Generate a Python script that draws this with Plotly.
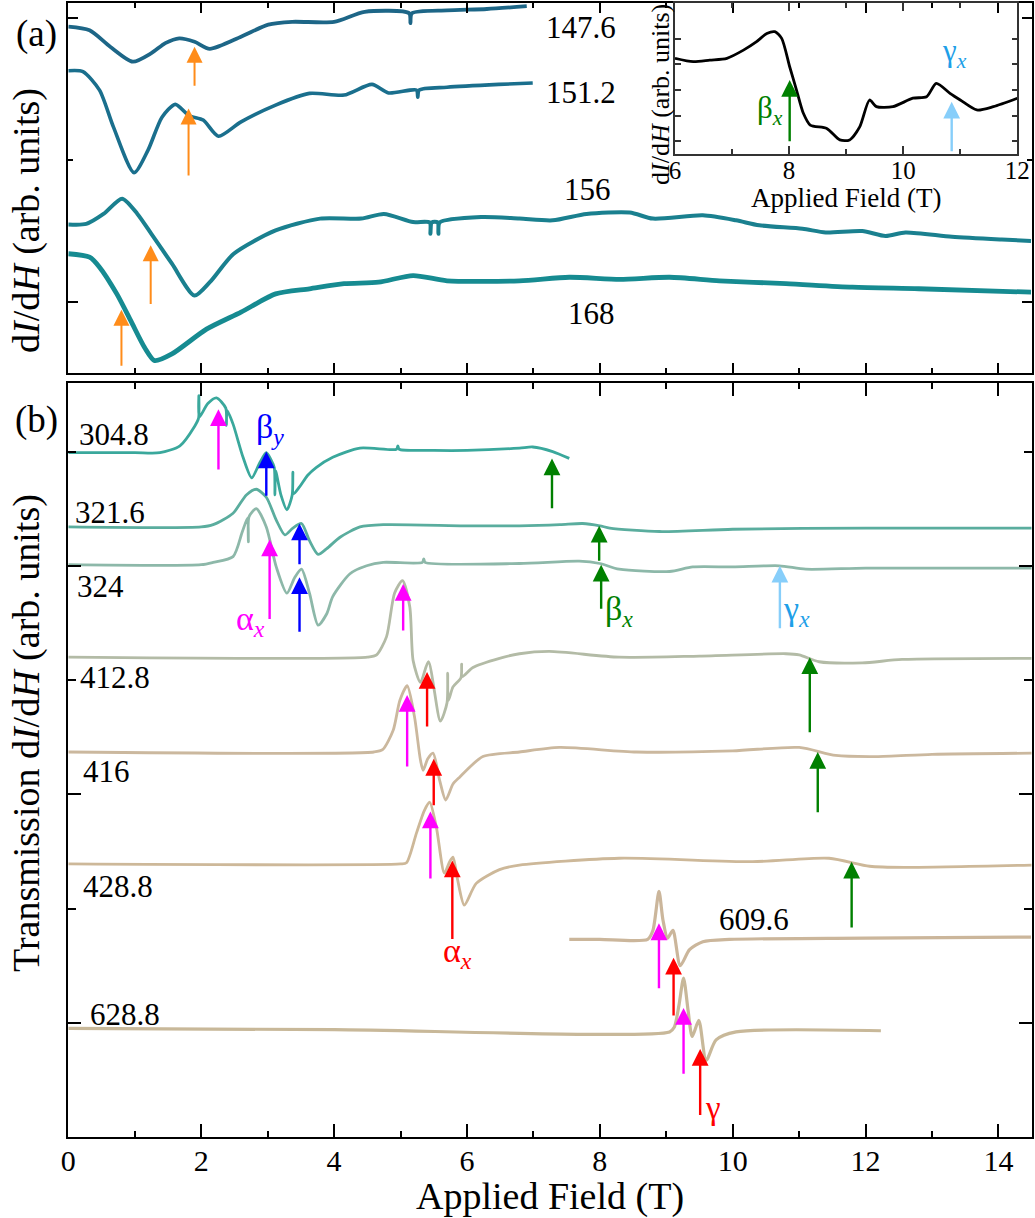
import plotly.graph_objects as go

FONT = "Liberation Serif, Times New Roman, serif"

# ---------------- panel (a): low-frequency spectra ----------------
A147_X = [0.0, 0.32, 0.63, 0.97, 1.25, 1.46, 1.67, 1.90, 2.13, 2.60, 3.01, 3.37, 4.0, 4.46,
          5.13, 5.15, 5.17, 5.70, 6.30, 6.90]
A147_Y = [2.436, 2.41, 2.295, 2.19, 2.25, 2.32, 2.354, 2.33, 2.28, 2.365, 2.45, 2.47, 2.47, 2.54,
          2.53, 2.46, 2.53, 2.55, 2.56, 2.58]

A151_X = [0.0, 0.22, 0.47, 0.68, 0.99, 1.20, 1.41, 1.61, 1.82, 2.03, 2.26, 2.60, 3.12, 3.63,
          4.15, 4.57, 4.82, 5.24, 5.26, 5.28, 5.70, 6.48, 6.99]
A151_Y = [2.126, 2.12, 1.99, 1.73, 1.41, 1.568, 1.80, 1.89, 1.81, 1.78, 1.666, 1.767, 1.885, 1.967,
          1.955, 2.03, 1.97, 1.99, 1.94, 1.99, 2.01, 2.03, 2.04]

A156_X = [0.0, 0.27, 0.53, 0.81, 1.04, 1.25, 1.56, 1.90, 2.13, 2.49, 3.12, 3.79, 4.41, 4.75,
          5.19, 5.44, 5.45, 5.47, 5.56, 5.57, 5.59, 6.22, 6.79, 7.29, 7.80, 8.45, 8.80, 9.55,
          10.05, 10.4, 11.05, 11.4, 11.95, 12.3, 12.6, 13.3, 14.05, 14.49]
A156_Y = [1.046, 1.05, 1.12, 1.227, 1.12, 0.98, 0.77, 0.546, 0.64, 0.84, 1.004, 1.087, 1.087, 1.12,
          1.063, 1.06, 0.98, 1.06, 1.06, 0.98, 1.06, 1.098, 1.087, 1.075, 1.12, 1.13, 1.087, 1.11,
          1.075, 1.04, 1.016, 0.99, 1.0, 0.965, 0.99, 0.96, 0.94, 0.93]

A168_X = [0.0, 0.32, 0.47, 0.73, 0.94, 1.15, 1.30, 1.56, 2.08, 2.60, 3.12, 3.63, 4.15, 4.67,
          5.19, 5.70, 6.79, 7.54, 8.3, 9.05, 9.8, 10.8, 11.8, 12.8, 14.49]
A168_Y = [0.84, 0.816, 0.746, 0.558, 0.37, 0.18, 0.089, 0.136, 0.31, 0.43, 0.558, 0.594, 0.63, 0.64,
          0.687, 0.65, 0.65, 0.675, 0.66, 0.675, 0.65, 0.63, 0.605, 0.594, 0.57]

A_LABELS = ["147.6", "151.2", "156", "168"]
A_LABEL_X = [7.72, 7.72, 7.81, 7.87]
A_LABEL_Y = [2.43, 1.97, 1.293, 0.423]

ORANGE_X = [1.90, 1.81, 1.24, 0.80]
ORANGE_TAIL = [2.01, 1.38, 0.476, 0.042]
ORANGE_TIP = [2.295, 1.86, 0.90, 0.446]

# ---------------- inset: 151.2 spectrum, 6-12 T ----------------
INSET_X = [6.0, 6.32, 6.61, 6.91, 7.2, 7.43, 7.61, 7.75, 7.87, 8.01, 8.13, 8.25, 8.37, 8.66,
           8.89, 9.06, 9.24, 9.41, 9.53, 9.82, 10.17, 10.41, 10.58, 10.82, 11.0, 11.29, 11.58, 12.0]
INSET_Y = [4.24, 4.11, 4.17, 4.24, 4.56, 4.89, 5.21, 5.28, 5.02, 3.91, 3.0, 2.09, 1.63, 1.50,
           1.05, 1.05, 1.57, 2.61, 2.35, 2.35, 2.68, 2.74, 3.26, 2.87, 2.61, 2.22, 2.35, 2.68]

# ---------------- panel (b): transmission spectra ----------------
B3048_X = [0.0, 1.0, 1.38, 1.68, 1.90, 1.96, 1.965, 1.97, 2.10, 2.23, 2.37, 2.38, 2.39, 2.48,
           2.63, 2.76, 2.88, 2.98, 3.05, 3.10, 3.11, 3.12, 3.20, 3.29, 3.37, 3.38, 3.39, 3.48,
           3.60, 3.73, 3.98, 4.39, 4.94, 4.96, 4.98, 5.5, 6.0, 6.79, 6.99, 7.29, 7.54]
B3048_Y = [5.99, 5.99, 5.99, 6.05, 6.22, 6.29, 6.49, 6.30, 6.42, 6.47, 6.38, 6.23, 6.36, 6.24,
           5.95, 5.77, 5.90, 5.99, 5.93, 5.86, 5.62, 5.83, 5.62, 5.49, 5.62, 5.82, 5.63, 5.69,
           5.79, 5.86, 5.95, 6.03, 6.02, 6.05, 6.02, 6.01, 6.01, 6.03, 6.04, 6.0, 5.94]

B3216_X = [0.0, 2.0, 2.18, 2.48, 2.68, 2.83, 2.98, 3.13, 3.26, 3.38, 3.51, 3.63, 3.76, 3.89,
           4.09, 4.39, 4.74, 6.0, 6.79, 7.4, 7.74, 8.0, 8.15, 8.9, 10.0, 12.0, 14.5]
B3216_Y = [5.34, 5.34, 5.36, 5.46, 5.62, 5.67, 5.60, 5.40, 5.27, 5.33, 5.37, 5.22, 5.10, 5.15,
           5.25, 5.34, 5.36, 5.35, 5.35, 5.36, 5.37, 5.35, 5.33, 5.30, 5.32, 5.33, 5.33]

B324_X = [0.0, 2.0, 2.18, 2.48, 2.62, 2.70, 2.71, 2.72, 2.83, 2.98, 3.13, 3.29, 3.41, 3.51,
          3.63, 3.76, 3.89, 3.98, 4.24, 4.49, 4.74, 5.33, 5.35, 5.37, 6.79, 7.69, 8.0, 8.29,
          9.05, 9.4, 10.0, 10.7, 11.1, 12.0, 14.5]
B324_Y = [5.01, 5.01, 5.03, 5.08, 5.30, 5.42, 5.21, 5.43, 5.50, 5.34, 4.99, 4.76, 4.90, 4.97,
          4.76, 4.48, 4.58, 4.73, 4.93, 5.0, 5.03, 5.03, 5.06, 5.03, 5.02, 5.04, 5.02, 4.97,
          4.95, 4.99, 4.99, 5.0, 4.97, 4.98, 4.98]

B4128_X = [0.0, 4.50, 4.64, 4.79, 4.91, 5.03, 5.14, 5.19, 5.30, 5.42, 5.60, 5.70, 5.71, 5.72,
           5.79, 5.91, 5.92, 5.93, 6.09, 6.49, 6.79, 7.24, 8.29, 9.5, 10.8, 11.0, 11.3, 11.95,
           12.55, 14.5]
B4128_Y = [4.20, 4.20, 4.22, 4.38, 4.76, 4.87, 4.64, 4.17, 3.98, 4.16, 3.64, 3.80, 4.06, 3.82,
           3.94, 4.02, 4.14, 4.03, 4.11, 4.19, 4.23, 4.25, 4.20, 4.21, 4.23, 4.22, 4.16, 4.15,
           4.18, 4.19]

B416_X = [0.0, 4.60, 4.73, 4.89, 4.99, 5.10, 5.21, 5.30, 5.34, 5.41, 5.49, 5.59, 5.68, 5.79,
          5.89, 6.24, 6.79, 7.39, 8.55, 10.0, 11.0, 11.55, 12.16, 13.0, 14.5]
B416_Y = [3.37, 3.37, 3.39, 3.56, 3.82, 3.95, 3.68, 3.30, 3.21, 3.31, 3.36, 3.12, 2.95, 3.09,
          3.15, 3.33, 3.37, 3.41, 3.37, 3.38, 3.41, 3.34, 3.33, 3.35, 3.36]

B4288_X = [0.0, 5.0, 5.09, 5.24, 5.36, 5.44, 5.54, 5.66, 5.74, 5.79, 5.86, 5.96, 6.14, 6.49,
           6.79, 8.29, 10.3, 11.45, 12.06, 12.6, 14.5]
B4288_Y = [2.39, 2.39, 2.40, 2.66, 2.86, 2.93, 2.71, 2.31, 2.41, 2.45, 2.25, 2.03, 2.22, 2.34,
           2.38, 2.44, 2.41, 2.44, 2.37, 2.36, 2.38]

B6096_X = [7.54, 8.0, 8.72, 8.80, 8.89, 8.95, 9.02, 9.10, 9.21, 9.35, 9.55, 9.95, 12.0, 14.49]
B6096_Y = [1.73, 1.73, 1.73, 1.81, 2.15, 1.90, 1.74, 1.81, 1.50, 1.64, 1.71, 1.73, 1.74, 1.75]

B6288_X = [0.0, 4.0, 9.05, 9.12, 9.19, 9.26, 9.33, 9.39, 9.49, 9.60, 9.75, 10.05, 12.23]
B6288_Y = [0.95, 0.94, 0.92, 0.96, 1.15, 1.39, 1.10, 0.88, 1.02, 0.67, 0.85, 0.92, 0.93]

B_LABELS = ["304.8", "321.6", "324", "412.8", "416", "428.8", "609.6", "628.8"]
B_LABEL_X = [0.69, 0.63, 0.48, 0.71, 0.58, 0.745, 10.32, 0.85]
B_LABEL_Y = [6.15, 5.47, 4.82, 4.02, 3.20, 2.196, 1.906, 1.074]

# resonance markers: field position, arrow tail, arrow tip
MAGENTA_X = [2.26, 3.03, 5.04, 5.10, 5.45, 8.89, 9.26]
MAGENTA_TAIL = [5.83, 4.52, 4.42, 3.23, 2.25, 1.29, 0.54]
MAGENTA_TIP = [6.37, 5.23, 4.84, 3.87, 2.85, 1.87, 1.13]

BLUE_X = [2.98, 3.48, 3.48]
BLUE_TAIL = [5.60, 5.00, 4.41]
BLUE_TIP = [6.00, 5.37, 4.90]

RED_X = [5.40, 5.50, 5.78, 9.11, 9.51]
RED_TAIL = [3.58, 2.89, 1.72, 1.05, 0.18]
RED_TIP = [4.07, 3.31, 2.42, 1.57, 0.77]

GREEN_X = [7.28, 7.99, 8.02, 11.16, 11.28, 11.79]
GREEN_TAIL = [5.49, 5.03, 4.61, 3.53, 2.83, 1.82]
GREEN_TIP = [5.94, 5.35, 5.01, 4.20, 3.37, 2.41]

SKY_X = [10.71]
SKY_TAIL = [4.44]
SKY_TIP = [5.00]

INSET_ARROW_X = [8.01, 10.85]
INSET_ARROW_TAIL = [0.94, 0.55]
INSET_ARROW_TIP = [3.39, 2.54]

FIELD_TICKS = [0, 2, 4, 6, 8, 10, 12, 14]
INSET_TICKS = [6, 8, 10, 12]

W, H = 1035, 1218

fig = go.Figure()


def curve(x, y, color, xa, ya, width=3.0):
    fig.add_trace(go.Scatter(
        x=x, y=y, mode="lines", xaxis=xa, yaxis=ya,
        line=dict(color=color, width=width, shape="spline", smoothing=0.7),
        hoverinfo="skip", showlegend=False))


# panel (a)
curve(A147_X, A147_Y, "#1d6687", "x2", "y2", 3.8)
curve(A151_X, A151_Y, "#1a6f8d", "x2", "y2", 3.6)
curve(A156_X, A156_Y, "#1a808f", "x2", "y2", 4.0)
curve(A168_X, A168_Y, "#168b91", "x2", "y2", 4.8)

# inset
curve(INSET_X, INSET_Y, "#000000", "x3", "y3", 2.8)

# panel (b)
curve(B3048_X, B3048_Y, "#3aa89c", "x", "y", 2.8)
curve(B3216_X, B3216_Y, "#5aad9e", "x", "y", 2.8)
curve(B324_X, B324_Y, "#8db8a9", "x", "y", 2.8)
curve(B4128_X, B4128_Y, "#b3bba6", "x", "y", 2.8)
curve(B416_X, B416_Y, "#cbb89e", "x", "y", 2.8)
curve(B4288_X, B4288_Y, "#cdb899", "x", "y", 2.8)
curve(B6096_X, B6096_Y, "#cbb69b", "x", "y", 3.2)
curve(B6288_X, B6288_Y, "#c8b899", "x", "y", 3.2)

ann = []


def arrows(xs, tails, tips, color, xr, yr, width=2.4, size=1.4):
    for xv, t0, t1 in zip(xs, tails, tips):
        ann.append(dict(x=xv, y=t1, ax=xv, ay=t0, xref=xr, yref=yr, axref=xr, ayref=yr,
                        showarrow=True, arrowhead=2, arrowsize=size, arrowwidth=width,
                        arrowcolor=color, standoff=0, startstandoff=0, text=""))


arrows(ORANGE_X, ORANGE_TAIL, ORANGE_TIP, "#ff8c1a", "x2", "y2", 2.0, 1.6)
arrows(MAGENTA_X, MAGENTA_TAIL, MAGENTA_TIP, "#ff00ff", "x", "y")
arrows(BLUE_X, BLUE_TAIL, BLUE_TIP, "#0000ff", "x", "y")
arrows(RED_X, RED_TAIL, RED_TIP, "#ff0000", "x", "y")
arrows(GREEN_X, GREEN_TAIL, GREEN_TIP, "#008000", "x", "y")
arrows(SKY_X, SKY_TAIL, SKY_TIP, "#87cefa", "x", "y")
arrows(INSET_ARROW_X[:1], INSET_ARROW_TAIL[:1], INSET_ARROW_TIP[:1], "#008000", "x3", "y3", 2.4, 1.4)
arrows(INSET_ARROW_X[1:], INSET_ARROW_TAIL[1:], INSET_ARROW_TIP[1:], "#87cefa", "x3", "y3", 2.4, 1.4)


def text(x, y, s, size, color="black", xr="x", yr="y", xanchor="center", yanchor="middle", angle=0):
    ann.append(dict(x=x, y=y, xref=xr, yref=yr, text=s, showarrow=False, textangle=angle,
                    xanchor=xanchor, yanchor=yanchor,
                    font=dict(family=FONT, size=size, color=color)))


for s, xv, yv in zip(A_LABELS, A_LABEL_X, A_LABEL_Y):
    text(xv, yv, s, 31, xr="x2", yr="y2")
for s, xv, yv in zip(B_LABELS, B_LABEL_X, B_LABEL_Y):
    text(xv, yv, s, 31)

# resonance branch names
text(2.79, 6.20, "β<sub><i>y</i></sub>", 34, "#0000ff", xanchor="left")
text(2.49, 4.52, "α<sub><i>x</i></sub>", 34, "#ff00ff", xanchor="left")
text(5.61, 1.61, "α<sub><i>x</i></sub>", 34, "#ff0000", xanchor="left")
text(8.05, 4.60, "β<sub><i>x</i></sub>", 34, "#008000", xanchor="left")
text(10.72, 4.60, "γ<sub><i>x</i></sub>", 34, "#1e9fe8", xanchor="left")
text(9.56, 0.25, "γ", 33, "#ff0000", xanchor="left")
text(7.40, 2.22, "β<sub><i>x</i></sub>", 31, "#008000", "x3", "y3", xanchor="left")
text(10.64, 4.45, "γ<sub><i>x</i></sub>", 31, "#1e9fe8", "x3", "y3", xanchor="left")

# panel tags and axis titles
text(36 / W, 1 - 34 / H, "(a)", 37, xr="paper", yr="paper")
text(36 / W, 1 - 420 / H, "(b)", 37, xr="paper", yr="paper")
text(550 / W, 1 - 1196 / H, "Applied Field (T)", 38, xr="paper", yr="paper")
text(26 / W, 1 - 733 / H, "Transmission d<i>I</i>/d<i>H</i> (arb. units)", 38,
     xr="paper", yr="paper", angle=-90)
text(27 / W, 1 - 221 / H, "d<i>I</i>/d<i>H</i> (arb. units)", 38, xr="paper", yr="paper", angle=-90)
text(846 / W, 1 - 198 / H, "Applied Field (T)", 27, xr="paper", yr="paper")
text(661 / W, 1 - 95 / H, "d<i>I</i>/d<i>H</i> (arb. units)", 26, xr="paper", yr="paper", angle=-90)

frame = dict(showline=True, linecolor="black", linewidth=2, mirror="ticks", ticks="inside",
             tickcolor="black", tickwidth=2, showgrid=False, zeroline=False, automargin=False)

fx0, fx1 = 68.3 / W, 1031.7 / W
fig.update_layout(
    template="none",
    width=W, height=H, margin=dict(l=0, r=0, t=0, b=0, pad=0), autosize=False,
    paper_bgcolor="white", plot_bgcolor="rgba(0,0,0,0)",
    font=dict(family=FONT, color="black"),
    showlegend=False,
    annotations=ann,
    xaxis=dict(frame, domain=[fx0, fx1], range=[0, 14.5], anchor="y",
               tickvals=FIELD_TICKS, ticktext=[str(v) for v in FIELD_TICKS], ticklen=13,
               tickfont=dict(family=FONT, size=30), ticklabelstandoff=-4,
               minor=dict(tickvals=[1, 3, 5, 7, 9, 11, 13], ticks="inside", ticklen=6,
                          tickwidth=2, tickcolor="black")),
    yaxis=dict(frame, domain=[1 - 1137 / H, 1 - 383 / H], range=[0, 6.6], anchor="x",
               tickvals=[1, 3, 5], showticklabels=False, ticklen=13,
               minor=dict(tickvals=[2, 4, 6], ticks="inside", ticklen=8, tickwidth=2,
                          tickcolor="black")),
    xaxis2=dict(frame, domain=[fx0, fx1], range=[0, 14.5], anchor="y2",
                tickvals=FIELD_TICKS, showticklabels=False, ticklen=10,
                minor=dict(tickvals=[1, 3, 5, 7, 9, 11, 13], ticks="inside", ticklen=5,
                           tickwidth=2, tickcolor="black")),
    yaxis2=dict(frame, domain=[1 - 373.3 / H, 1 - 3.3 / H], range=[0, 2.6], anchor="x2",
                tickvals=[0.5, 2.5], showticklabels=False, ticklen=10,
                minor=dict(tickvals=[1.5], ticks="inside", ticklen=5, tickwidth=2,
                           tickcolor="black")),
    xaxis3=dict(frame, domain=[675 / W, 1017.3 / W], range=[6, 12], anchor="y3",
                linecolor="#333333", linewidth=1.5, tickwidth=1.5, tickcolor="#333333",
                tickvals=INSET_TICKS, ticktext=[str(v) for v in INSET_TICKS], ticklen=8,
                tickfont=dict(family=FONT, size=25), ticklabelstandoff=-7,
                minor=dict(tickvals=[7, 9, 11], ticks="inside", ticklen=5, tickwidth=1.5,
                           tickcolor="#333333")),
    yaxis3=dict(frame, domain=[1 - 154 / H, 1 - 3.3 / H], range=[0.5, 6.39], anchor="x3",
                linecolor="#333333", linewidth=1.5, tickwidth=1.5, tickcolor="#333333",
                tickvals=[1, 2, 3, 4, 5], showticklabels=False, ticklen=6),
)

fig.write_html("out.html")
